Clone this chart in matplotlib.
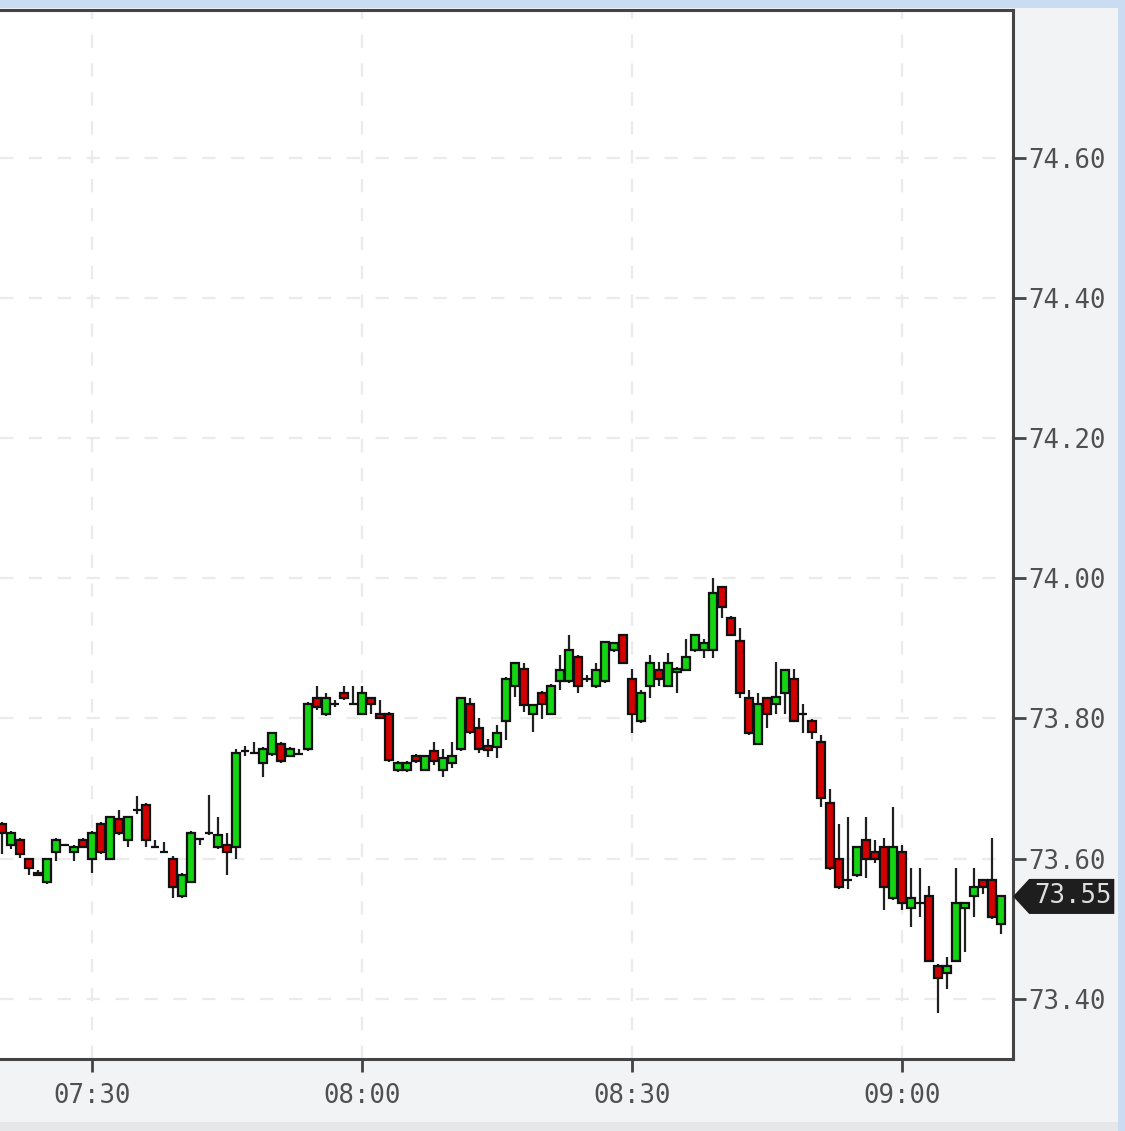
import matplotlib
matplotlib.use('Agg')
import matplotlib.pyplot as plt
from matplotlib.patches import Rectangle, Polygon

# 1-minute candles starting at 07:20
start_time = '07:20'
opens = [73.650, 73.619, 73.627, 73.600, 73.579, 73.566, 73.609, 73.619, 73.609, 73.627,
         73.600, 73.650, 73.600, 73.657, 73.626, 73.669, 73.677, 73.617, 73.610, 73.600,
         73.546, 73.567, 73.628, 73.636, 73.616, 73.619, 73.616, 73.754, 73.750, 73.737,
         73.749, 73.764, 73.747, 73.749, 73.757, 73.829, 73.807, 73.821, 73.837, 73.820,
         73.807, 73.829, 73.807, 73.807, 73.726, 73.726, 73.746, 73.727, 73.754, 73.726,
         73.737, 73.757, 73.821, 73.787, 73.760, 73.759, 73.797, 73.847, 73.870, 73.807,
         73.837, 73.807, 73.854, 73.854, 73.887, 73.857, 73.847, 73.854, 73.897, 73.919,
         73.857, 73.797, 73.847, 73.869, 73.847, 73.866, 73.869, 73.897, 73.897, 73.897,
         73.987, 73.944, 73.911, 73.829, 73.764, 73.829, 73.821, 73.837, 73.857, 73.807,
         73.797, 73.766, 73.679, 73.600, 73.569, 73.576, 73.626, 73.609, 73.616, 73.544,
         73.609, 73.529, 73.537, 73.546, 73.447, 73.437, 73.454, 73.529, 73.547, 73.569,
         73.569, 73.507]
highs = [73.652, 73.640, 73.630, 73.601, 73.584, 73.601, 73.629, 73.620, 73.619, 73.629,
         73.640, 73.652, 73.661, 73.669, 73.661, 73.690, 73.679, 73.626, 73.624, 73.603,
         73.579, 73.640, 73.629, 73.691, 73.660, 73.636, 73.757, 73.761, 73.766, 73.759,
         73.781, 73.766, 73.759, 73.757, 73.824, 73.846, 73.836, 73.826, 73.847, 73.847,
         73.847, 73.831, 73.826, 73.809, 73.739, 73.739, 73.749, 73.748, 73.766, 73.757,
         73.766, 73.831, 73.829, 73.800, 73.770, 73.790, 73.859, 73.880, 73.879, 73.821,
         73.839, 73.849, 73.890, 73.919, 73.890, 73.862, 73.879, 73.911, 73.909, 73.921,
         73.871, 73.840, 73.890, 73.880, 73.894, 73.874, 73.914, 73.921, 73.914, 74.001,
         73.989, 73.946, 73.929, 73.840, 73.836, 73.831, 73.880, 73.871, 73.871, 73.821,
         73.799, 73.776, 73.700, 73.650, 73.659, 73.618, 73.659, 73.626, 73.629, 73.673,
         73.619, 73.587, 73.587, 73.561, 73.450, 73.460, 73.587, 73.538, 73.587, 73.571,
         73.629, 73.548]
lows = [73.607, 73.613, 73.601, 73.576, 73.576, 73.564, 73.597, 73.618, 73.597, 73.615,
        73.580, 73.607, 73.598, 73.634, 73.616, 73.664, 73.616, 73.616, 73.609, 73.544,
        73.544, 73.566, 73.620, 73.634, 73.614, 73.576, 73.600, 73.747, 73.749, 73.716,
        73.747, 73.737, 73.745, 73.748, 73.754, 73.812, 73.804, 73.816, 73.827, 73.819,
        73.805, 73.806, 73.799, 73.738, 73.724, 73.724, 73.737, 73.725, 73.733, 73.716,
        73.729, 73.754, 73.778, 73.750, 73.745, 73.743, 73.769, 73.830, 73.809, 73.780,
        73.799, 73.805, 73.840, 73.850, 73.836, 73.852, 73.844, 73.850, 73.895, 73.877,
        73.779, 73.794, 73.829, 73.847, 73.845, 73.836, 73.867, 73.895, 73.886, 73.886,
        73.944, 73.917, 73.829, 73.777, 73.762, 73.786, 73.806, 73.807, 73.795, 73.779,
        73.770, 73.673, 73.584, 73.557, 73.556, 73.574, 73.573, 73.594, 73.526, 73.541,
        73.526, 73.503, 73.516, 73.452, 73.379, 73.414, 73.452, 73.466, 73.516, 73.549,
        73.514, 73.493]
closes = [73.636, 73.636, 73.607, 73.587, 73.577, 73.600, 73.627, 73.619, 73.617, 73.617,
          73.636, 73.609, 73.659, 73.636, 73.659, 73.669, 73.626, 73.617, 73.610, 73.559,
          73.577, 73.636, 73.628, 73.636, 73.634, 73.609, 73.750, 73.754, 73.750, 73.757,
          73.779, 73.739, 73.757, 73.749, 73.821, 73.816, 73.829, 73.821, 73.829, 73.820,
          73.837, 73.821, 73.800, 73.740, 73.737, 73.737, 73.739, 73.746, 73.739, 73.744,
          73.747, 73.829, 73.780, 73.757, 73.755, 73.779, 73.857, 73.879, 73.819, 73.819,
          73.821, 73.847, 73.869, 73.897, 73.847, 73.856, 73.869, 73.909, 73.907, 73.879,
          73.807, 73.837, 73.879, 73.857, 73.879, 73.870, 73.887, 73.919, 73.907, 73.979,
          73.959, 73.919, 73.836, 73.779, 73.821, 73.807, 73.830, 73.869, 73.797, 73.807,
          73.780, 73.687, 73.586, 73.559, 73.569, 73.616, 73.600, 73.600, 73.559, 73.616,
          73.537, 73.544, 73.537, 73.454, 73.429, 73.447, 73.536, 73.536, 73.559, 73.559,
          73.516, 73.546]

price_ticks = [73.40, 73.60, 73.80, 74.00, 74.20, 74.40, 74.60]
time_labels = ['07:30', '08:00', '08:30', '09:00']
last_price_label = '73.55'

UP = '#14d414'
DOWN = '#d40000'
FONT = 'DejaVu Sans Mono'


def minute_index(label):
    h, m = label.split(':')
    sh, sm = start_time.split(':')
    return (int(h) * 60 + int(m)) - (int(sh) * 60 + int(sm))


# 画K线
def draw_candles(ax):
    xs = list(range(len(opens)))
    ax.vlines(xs, lows, highs, color='#202020', linewidth=1.6, zorder=3)
    for i, (o, c) in enumerate(zip(opens, closes)):
        color = UP if c >= o else DOWN
        bottom = min(o, c)
        height = abs(c - o)
        ax.bar(i, height, width=0.8, bottom=bottom, color=color,
               edgecolor='#111111', linewidth=1.6, zorder=4)


def draw_frame(fig):
    fig.patches.append(Rectangle((0, 1 - 8 / 1131), 1, 8 / 1131, transform=fig.transFigure,
                                 facecolor='#cadcf2', edgecolor='none', zorder=0))
    fig.patches.append(Rectangle((1118 / 1125, 0), 7 / 1125, 1, transform=fig.transFigure,
                                 facecolor='#cadcf2', edgecolor='none', zorder=0))
    fig.patches.append(Rectangle((0, 0), 1118 / 1125, 9 / 1131, transform=fig.transFigure,
                                 facecolor='#e6e7e9', edgecolor='none', zorder=0))


def main():
    fig = plt.figure(figsize=(11.25, 11.31), dpi=100, facecolor='#f2f3f5')
    draw_frame(fig)
    ax = fig.add_axes([0, 1 - 1059 / 1131, 1013 / 1125, 1049 / 1131])
    ax.set_facecolor('white')

    draw_candles(ax)

    ax.set_xlim(-0.22, 112.33)
    ax.set_ylim(73.314, 74.811)

    xt = [minute_index(t) for t in time_labels]
    ax.set_xticks(xt)
    ax.set_xticklabels(time_labels)
    ax.set_yticks(price_ticks)
    ax.set_yticklabels(['%.2f' % p for p in price_ticks])
    ax.yaxis.tick_right()

    ax.tick_params(axis='both', colors='#444444', labelcolor='#505050', length=9, width=2,
                   labelsize=18.5, pad=2)
    for lab in ax.get_xticklabels() + ax.get_yticklabels():
        lab.set_family(FONT)
    ax.tick_params(axis='x', pad=8)

    ax.grid(True, color='#ebebeb', linestyle=(0, (6, 7)), linewidth=1.6)
    ax.set_axisbelow(True)

    for side in ['top', 'right', 'bottom']:
        ax.spines[side].set_color('#444444')
        ax.spines[side].set_linewidth(2.2)
    ax.spines['left'].set_visible(False)

    # 最新价标签
    last = closes[-1]
    tag = Polygon([(1.0, last), (1.016, last + 0.025), (1.1, last + 0.025),
                   (1.1, last - 0.025), (1.016, last - 0.025)], closed=True,
                  transform=ax.get_yaxis_transform(), facecolor='#1e1e1e',
                  edgecolor='none', clip_on=False, zorder=6)
    ax.add_patch(tag)
    ax.text(1.059, last, last_price_label, transform=ax.get_yaxis_transform(),
            ha='center', va='center', color='#dddddd', fontsize=18.5, family=FONT,
            zorder=7, clip_on=False)

    fig.savefig('out.png', dpi=100, facecolor=fig.get_facecolor())


if __name__ == '__main__':
    main()
